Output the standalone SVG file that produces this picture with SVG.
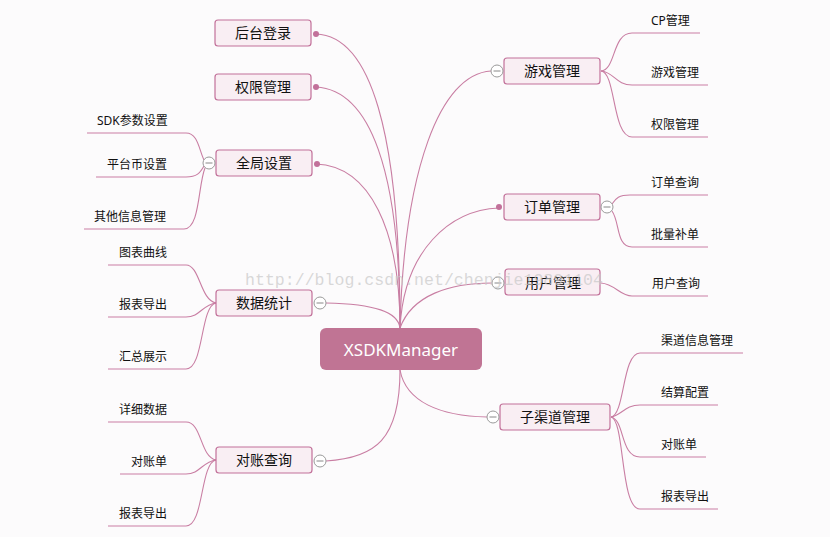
<svg xmlns="http://www.w3.org/2000/svg" width="830" height="537" viewBox="0 0 830 537">
<style>
text{font-family:"Noto Sans","Noto Sans CJK SC",sans-serif;fill:#111}
.leaf{font-size:12px}
.n1{font-size:14px;text-anchor:middle}
.box{fill:#f9eef3;stroke:#c2719a;stroke-width:1.2}
.ln{fill:none;stroke:#c97ea3;stroke-width:1.1}
.tg{fill:#fff;stroke:#9a9a9a;stroke-width:1}
.dot{fill:#c2719a}
.wm{font-family:"Liberation Mono",monospace;font-size:16.5px;fill:#c8c8c8;fill-opacity:0.7}
</style>
<defs>
<g id="tog"><circle r="6" class="tg"/><line x1="-3.5" y1="0" x2="3.5" y2="0" stroke="#888" stroke-width="1"/></g>
</defs>
<rect width="830" height="537" fill="#fcfbfc"/>
<g id="connectors">
<path class="ln" d="M400,328 C400,130 370,36 316,34"/>
<path class="ln" d="M400,328 C400,170 370,90 316,87"/>
<path class="ln" d="M400,328 C400,230 370,166 316,164"/>
<path class="ln" d="M400,328 C398,312 375,304 326,303"/>
<path class="ln" d="M400,370 C400,440 375,458 326,461"/>
<path class="ln" d="M400,328 C404,170 440,74 491,71"/>
<path class="ln" d="M400,328 C404,250 450,210 499,208"/>
<path class="ln" d="M400,328 C412,295 450,283 492,283"/>
<path class="ln" d="M400,370 C406,402 440,416 487,417"/>
<path class="ln" d="M601,71 C616,70 612,33 632,33 L700,33"/>
<path class="ln" d="M601,71 C614,72 616,85 632,85 L708,85"/>
<path class="ln" d="M601,71 C616,72 612,137 632,137 L708,137"/>
<path class="ln" d="M612,204 C616,198 619,195 630,195 L708,195"/>
<path class="ln" d="M612,211 C620,222 616,247 632,247 L708,247"/>
<path class="ln" d="M601,283 C615,284 620,296 632,296 L708,296"/>
<path class="ln" d="M611,417 C625,415 622,353 640,353 L743,353"/>
<path class="ln" d="M611,417 C622,415 625,405 640,405 L718,405"/>
<path class="ln" d="M611,417 C625,420 620,457 640,457 L706,457"/>
<path class="ln" d="M611,417 C625,420 620,509 640,509 L718,509"/>
<path class="ln" d="M204,160 C199,150 198,133 186,133 L87,133"/>
<path class="ln" d="M204,166 C200,173 197,177 186,177 L96,177"/>
<path class="ln" d="M205,168 C198,185 200,229 184,229 L84,229"/>
<path class="ln" d="M216,303 C200,300 200,265 186,265 L108,265"/>
<path class="ln" d="M216,303 C202,305 200,317 186,317 L108,317"/>
<path class="ln" d="M216,303 C200,306 204,369 186,369 L108,369"/>
<path class="ln" d="M216,460 C200,457 202,422 186,422 L108,422"/>
<path class="ln" d="M216,460 C202,462 200,474 186,474 L120,474"/>
<path class="ln" d="M216,460 C200,463 204,526 186,526 L108,526"/>
</g>
<g id="root">
<rect x="320" y="328" width="162" height="42" rx="6" fill="#c07494"/>
<text x="401" y="356" font-size="17" text-anchor="middle" style="fill:#fff">XSDKManager</text>
</g>
<g id="n-houtai"><rect class="box" x="215" y="20" width="96" height="26" rx="3"/><circle class="dot" cx="316" cy="34" r="3"/><text class="n1" x="263" y="38">后台登录</text></g>
<g id="n-quanxian"><rect class="box" x="215" y="74" width="96" height="26" rx="3"/><circle class="dot" cx="316" cy="87" r="3"/><text class="n1" x="263" y="92">权限管理</text></g>
<g id="n-quanju"><rect class="box" x="216" y="150" width="96" height="26" rx="3"/><circle class="dot" cx="317" cy="164" r="3"/><use href="#tog" x="209" y="163"/><text class="n1" x="264" y="168">全局设置</text></g>
<g id="n-shuju"><rect class="box" x="216" y="290" width="96" height="26" rx="3"/><use href="#tog" x="320" y="303"/><text class="n1" x="264" y="308">数据统计</text></g>
<g id="n-duizhang"><rect class="box" x="216" y="447" width="96" height="26" rx="3"/><use href="#tog" x="320" y="461"/><text class="n1" x="264" y="465">对账查询</text></g>
<g id="n-youxi"><rect class="box" x="504" y="58" width="96" height="26" rx="3"/><use href="#tog" x="497" y="71"/><text class="n1" x="552" y="76">游戏管理</text></g>
<g id="n-dingdan"><rect class="box" x="504" y="194" width="96" height="26" rx="3"/><circle class="dot" cx="499" cy="207" r="3"/><use href="#tog" x="607" y="207"/><text class="n1" x="552" y="212">订单管理</text></g>
<g id="n-yonghu"><rect class="box" x="505" y="269" width="95" height="26" rx="3"/><use href="#tog" x="498" y="283"/><text class="n1" x="553" y="288">用户管理</text></g>
<g id="n-ziqudao"><rect class="box" x="500" y="404" width="110" height="26" rx="3"/><use href="#tog" x="493" y="417"/><text class="n1" x="555" y="422">子渠道管理</text></g>
<g id="leaves">
<text class="leaf" x="651" y="25">CP管理</text>
<text class="leaf" x="651" y="77">游戏管理</text>
<text class="leaf" x="651" y="129">权限管理</text>
<text class="leaf" x="651" y="187">订单查询</text>
<text class="leaf" x="651" y="239">批量补单</text>
<text class="leaf" x="652" y="288">用户查询</text>
<text class="leaf" x="661" y="345">渠道信息管理</text>
<text class="leaf" x="661" y="397">结算配置</text>
<text class="leaf" x="661" y="449">对账单</text>
<text class="leaf" x="661" y="501">报表导出</text>
<text class="leaf" x="97" y="125">SDK参数设置</text>
<text class="leaf" x="107" y="169">平台币设置</text>
<text class="leaf" x="94" y="221">其他信息管理</text>
<text class="leaf" x="119" y="257">图表曲线</text>
<text class="leaf" x="119" y="309">报表导出</text>
<text class="leaf" x="119" y="361">汇总展示</text>
<text class="leaf" x="119" y="414">详细数据</text>
<text class="leaf" x="131" y="466">对账单</text>
<text class="leaf" x="119" y="518">报表导出</text>
</g>
<text class="wm" x="245" y="285" textLength="358" lengthAdjust="spacingAndGlyphs">http://blog.csdn.net/chenjie19891104</text>
</svg>
